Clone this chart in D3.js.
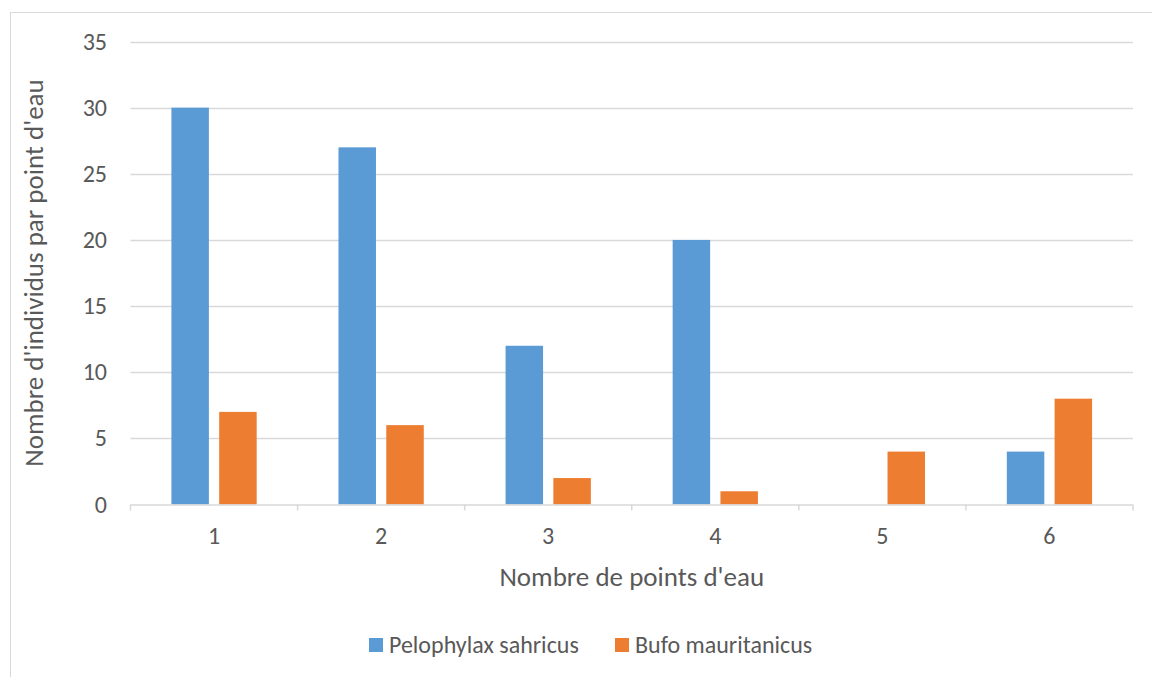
<!DOCTYPE html>
<html>
<head>
<meta charset="utf-8">
<script src="https://cdn.jsdelivr.net/npm/d3@7"></script>
<style>
  html, body { margin: 0; padding: 0; background: #fff; }
  svg { display: block; }
  text { font-family: Carlito, Calibri, Lato, "Open Sans", sans-serif; fill: #595959; }
</style>
</head>
<body>
<svg id="chart" width="1152" height="677"></svg>
<script>
const categories = ["1", "2", "3", "4", "5", "6"];
const seriesNames = ["Pelophylax sahricus", "Bufo mauritanicus"];
const pelophylax = [30, 27, 12, 20, 0, 4];
const bufo = [7, 6, 2, 1, 4, 8];
const yTicks = [0, 5, 10, 15, 20, 25, 30, 35];
const colors = ["#5B9BD5", "#ED7D31"];
const xTitle = "Nombre de points d'eau";
const yTitle = "Nombre d'individus par point d'eau";

const seriesValues = [pelophylax, bufo];
const svg = d3.select("#chart");

// chart border (right and bottom edges lie outside the picture)
svg.append("rect")
  .attr("x", 10.5).attr("y", 12.5)
  .attr("width", 1200).attr("height", 700)
  .attr("fill", "none").attr("stroke", "#D9D9D9").attr("stroke-width", 1);

const plotL = 130.5, plotR = 1133, plotT = 41.5, plotB = 504.5;

const x0 = d3.scaleBand().domain(categories).range([plotL, plotR]).padding(0);
const x1 = d3.scaleBand().domain(seriesNames).range([0, x0.bandwidth()])
  .paddingInner(0.2155).paddingOuter(0.856);
const y = d3.scaleLinear().domain([0, 35]).range([plotB, plotT]);

// gridlines
svg.append("g").selectAll("line").data(yTicks.filter(d => d > 0)).join("line")
  .attr("x1", plotL).attr("x2", plotR)
  .attr("y1", d => Math.round(y(d)) + 0.5).attr("y2", d => Math.round(y(d)) + 0.5)
  .attr("stroke", "#D9D9D9").attr("stroke-width", 1.5);

// bars
const groups = svg.append("g").selectAll("g").data(categories).join("g")
  .attr("transform", d => `translate(${x0(d)},0)`);
groups.selectAll("rect")
  .data((c, i) => seriesNames.map((s, j) => ({ s, j, v: seriesValues[j][i] })))
  .join("rect")
  .attr("x", d => x1(d.s))
  .attr("width", x1.bandwidth())
  .attr("y", d => y(d.v))
  .attr("height", d => y(0) - y(d.v))
  .attr("fill", d => colors[d.j]);

// x axis
const xAxisG = svg.append("g");
xAxisG.append("line")
  .attr("x1", plotL).attr("x2", plotR).attr("y1", plotB + 0.5).attr("y2", plotB + 0.5)
  .attr("stroke", "#D9D9D9").attr("stroke-width", 1.5);
const boundaries = categories.map(c => x0(c)).concat([plotR]);
xAxisG.selectAll("line.tick").data(boundaries).join("line").attr("class", "tick")
  .attr("x1", d => d).attr("x2", d => d)
  .attr("y1", plotB).attr("y2", plotB + 6)
  .attr("stroke", "#D9D9D9").attr("stroke-width", 1.5);
xAxisG.selectAll("text").data(categories).join("text")
  .attr("x", d => x0(d) + x0.bandwidth() / 2)
  .attr("y", 544)
  .attr("text-anchor", "middle")
  .style("font-size", "24px")
  .text(d => d);

// y axis labels
svg.append("g").selectAll("text").data(yTicks).join("text")
  .attr("x", 107)
  .attr("y", d => y(d) + 8)
  .attr("text-anchor", "end")
  .style("font-size", "24px")
  .text(d => d);

// axis titles
svg.append("text")
  .attr("x", (plotL + plotR) / 2)
  .attr("y", 586)
  .attr("text-anchor", "middle")
  .style("font-size", "27px")
  .text(xTitle);

svg.append("text")
  .attr("transform", `translate(43, ${(plotT + plotB) / 2}) rotate(-90)`)
  .attr("text-anchor", "middle")
  .style("font-size", "27px")
  .text(yTitle);

// legend
const legendX = [369, 615];
const legend = svg.append("g").selectAll("g").data(seriesNames).join("g")
  .attr("transform", (d, i) => `translate(${legendX[i]}, 638)`);
legend.append("rect").attr("width", 14).attr("height", 14)
  .attr("fill", (d, i) => colors[i]);
legend.append("text").attr("x", 20).attr("y", 15)
  .style("font-size", "24px")
  .text(d => d);
</script>
</body>
</html>
